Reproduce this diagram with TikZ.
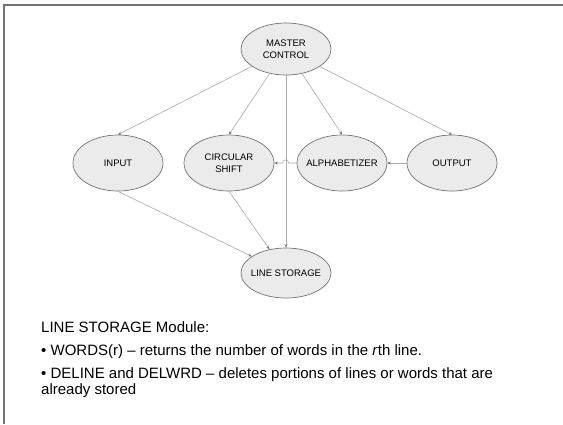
\documentclass[tikz,border=0pt]{standalone}
\usepackage{fontspec}
\setmainfont{Liberation Sans}
\usetikzlibrary{shapes.geometric,arrows.meta}

\begin{document}
\begin{tikzpicture}[x=1pt,y=-1pt,
  module/.style={ellipse,draw=black!55,fill=black!8,line width=0.7pt,
    inner xsep=-16pt,inner ysep=0pt,minimum width=90pt,minimum height=56pt,
    align=center,font=\fontsize{9.5}{12.5}\selectfont},
  link/.style={draw=black!33,line width=0.6pt,
    -{Stealth[length=3.5pt,width=3pt,black!55]}},
  bodytext/.style={anchor=base west,inner sep=0pt,font=\fontsize{15}{18}\selectfont}]
\useasboundingbox (0,0) rectangle (563,424);

% frame along the top and the left side
\draw[black!55,line width=1.3pt] (4,424) -- (4,5) -- (563,5);

% modules
\node[module,minimum height=52pt] (mc) at (286,49) {MASTER\\CONTROL};
\node[module] (in)  at (118,163) {INPUT};
\node[module] (cs)  at (229,163) {CIRCULAR\\SHIFT};
\node[module] (al)  at (342,163) {ALPHABETIZER};
\node[module] (out) at (452,163) {OUTPUT};
\node[module,minimum height=50pt] (ls) at (286,273) {LINE STORAGE};

% control flow
\draw[link] (mc) -- (in.north);
\draw[link] (mc) -- (cs.north);
\draw[link] (mc) -- (al.north);
\draw[link] (mc) -- (out.north);
\draw[link] (mc) -- (ls);
\draw[link] (in.south) -- (ls);
\draw[link] (cs.south) -- (ls);
\draw[link] (out) -- (al);
\draw[link] (al.west) -- ++(-8,0) arc[start angle=0,end angle=-180,radius=3] -- (cs.east);

% description
\node[bodytext] (t1) at (41,332) {LINE STORAGE Module:};
\node[bodytext] (t2) at (41,355) {• WORDS(r) – returns the number of words in the \textit{r}th line.};
\node[bodytext] (t3) at (41,378) {• DELINE and DELWRD – deletes portions of lines or words that are};
\node[bodytext] (t4) at (41,394) {already stored};
\end{tikzpicture}
\end{document}
